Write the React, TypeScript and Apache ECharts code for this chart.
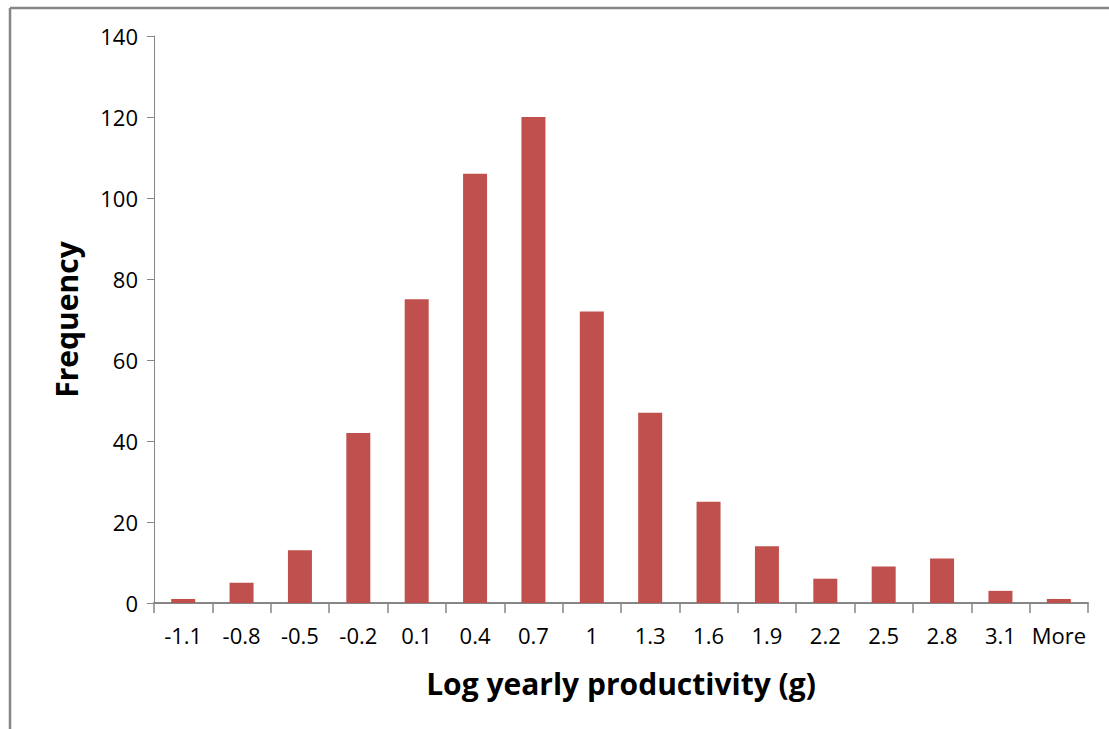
import React, { useEffect, useRef } from "react";
import * as echarts from "echarts";

const categories = ["-1.1", "-0.8", "-0.5", "-0.2", "0.1", "0.4", "0.7", "1", "1.3", "1.6", "1.9", "2.2", "2.5", "2.8", "3.1", "More"];
const frequency = [1, 5, 13, 42, 75, 106, 120, 72, 47, 25, 14, 6, 9, 11, 3, 1];
const yMin = 0;
const yMax = 140;
const yInterval = 20;
const xTitle = "Log yearly productivity (g)";
const yTitle = "Frequency";

export default function App() {
  const ref = useRef<HTMLDivElement>(null);
  useEffect(() => {
    document.body.style.margin = "0";
    const chart = echarts.init(ref.current!, null, { renderer: "svg" });
    const font = "'Open Sans', Lato, sans-serif";
    chart.setOption({
      animation: false,
      backgroundColor: "#ffffff",
      textStyle: { fontFamily: font },
      grid: { left: 154, top: 36, right: 21, bottom: 126, containLabel: false },
      graphic: [
        { type: "line", shape: { x1: 10, y1: 8, x2: 1109, y2: 8 }, style: { stroke: "#868686", lineWidth: 2.5 } },
        { type: "line", shape: { x1: 10, y1: 8, x2: 10, y2: 729 }, style: { stroke: "#868686", lineWidth: 2.5 } },
      ],
      xAxis: {
        type: "category",
        data: categories,
        boundaryGap: true,
        name: xTitle,
        nameLocation: "middle",
        nameGap: 65,
        nameTextStyle: { fontFamily: font, fontSize: 30, fontWeight: "bold", color: "#000" },
        axisLine: { show: true, lineStyle: { color: "#868686", width: 2 } },
        axisTick: { show: true, interval: 0, length: 10, inside: false, lineStyle: { color: "#868686", width: 1.5 } },
        axisLabel: { interval: 0, color: "#000", fontSize: 22, margin: 21, fontFamily: font },
        splitLine: { show: false },
      },
      yAxis: {
        type: "value",
        min: yMin,
        max: yMax,
        interval: yInterval,
        name: yTitle,
        nameLocation: "middle",
        nameGap: 73,
        nameRotate: 90,
        nameTextStyle: { fontFamily: font, fontSize: 30, fontWeight: "bold", color: "#000" },
        axisLine: { show: true, lineStyle: { color: "#868686", width: 1 } },
        axisTick: { show: true, length: 7, inside: false, lineStyle: { color: "#868686" } },
        axisLabel: { color: "#000", fontSize: 22, margin: 16, fontFamily: font },
        splitLine: { show: false },
      },
      series: [
        {
          type: "bar",
          data: frequency,
          barWidth: 24,
          itemStyle: { color: "#C0504D" },
        },
      ],
    });
    return () => chart.dispose();
  }, []);
  return <div ref={ref} style={{ position: "absolute", left: 0, top: 0, width: 1109, height: 729 }} />;
}
